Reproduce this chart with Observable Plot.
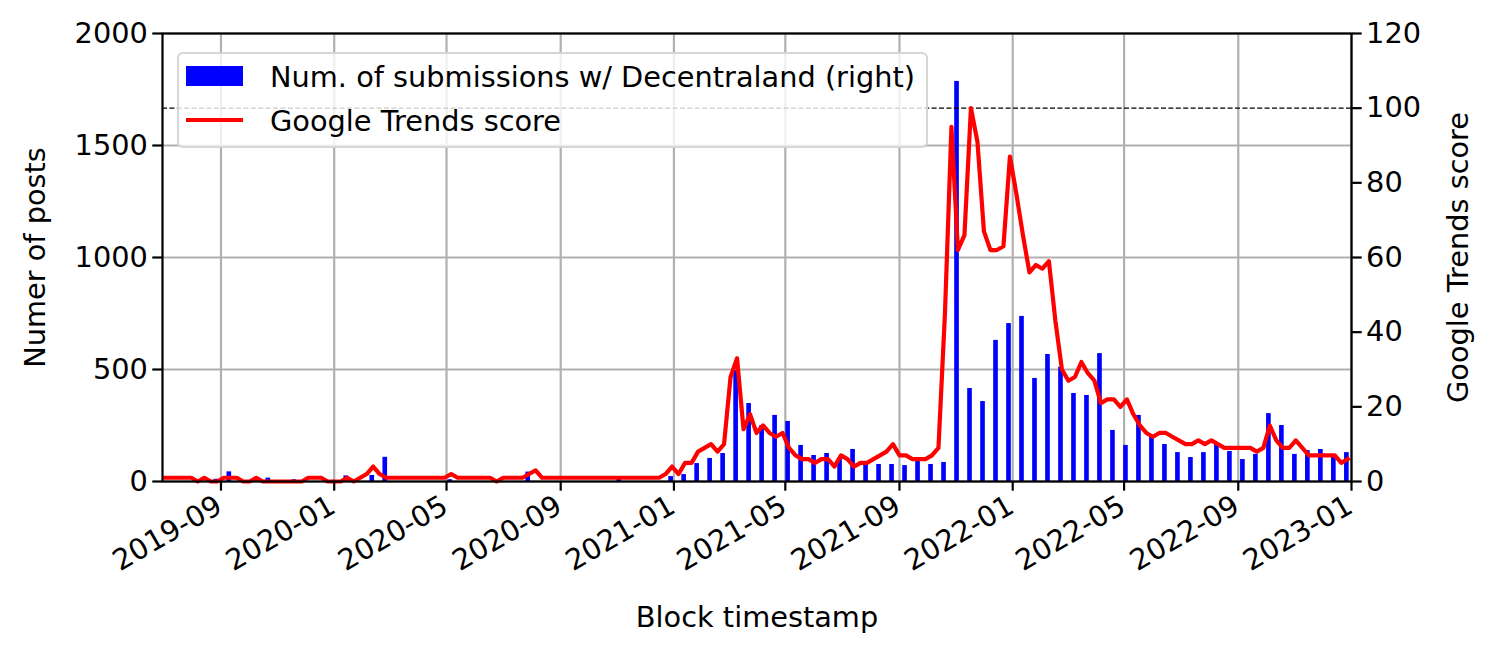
<!DOCTYPE html>
<html><head><meta charset="utf-8">
<script src="https://cdn.jsdelivr.net/npm/d3@7"></script>
<script src="https://cdn.jsdelivr.net/npm/@observablehq/plot@0.6"></script>
<style>
body{margin:0;background:#fff;}
#wrap{position:relative;width:1494px;height:655px;font-family:"DejaVu Sans";}
#legend{position:absolute;left:177px;top:52px;width:751px;height:96px;box-sizing:border-box;border:2.5px solid rgba(204,204,204,0.8);border-radius:6px;background:rgba(255,255,255,0.8);}
.sw{position:absolute;}
.lt{position:absolute;font-size:28.8px;line-height:1;white-space:nowrap;transform:translateY(-50%);color:#000;}
</style></head><body><div id="wrap"></div>
<script>
// ---- data ----
const xTickDates = ["2019-09-01","2020-01-01","2020-05-01","2020-09-01","2021-01-01","2021-05-01","2021-09-01","2022-01-01","2022-05-01","2022-09-01","2023-01-01"];
const leftTicks = [0, 500, 1000, 1500, 2000];
const rightTicks = [0, 20, 40, 60, 80, 100, 120];
const barStart = "2019-07-16";   // biweekly bars
const barStepDays = 14;
const submissions = [
  0,0,0,10,43,0,0,15,0,8,
  0,0,5,25,0,27,108,0,0,0,
  0,8,0,0,0,0,0,42,0,0,
  0,0,0,0,20,0,0,0,22,31,
  80,103,125,495,348,250,295,268,161,116,
  125,103,143,85,76,76,71,92,76,85,
  1786,415,357,630,705,737,460,567,510,393,
  384,571,228,161,295,205,165,129,107,129,
  165,134,98,121,303,250,121,138,143,112,
  129
];
const trendStart = "2019-07-03"; // weekly Google Trends
const trendStepDays = 7;
const trendScore = [
  1,1,1,1,1,0,1,0,0,1,
  1,1,0,0,1,0,0,0,0,0,
  0,0,1,1,1,0,0,0,1,0,
  1,2,4,2,1,1,1,1,1,1,
  1,1,1,1,2,1,1,1,1,1,
  1,0,1,1,1,1,2,3,1,1,
  1,1,1,1,1,1,1,1,1,1,
  1,1,1,1,1,1,1,2,4,2,
  5,5,8,9,10,8,10,28,33,14,
  18,13,15,13,12,13,9,7,6,6,
  5,6,6,4,7,6,4,5,5,6,
  7,8,10,7,7,6,6,6,7,9,
  45,95,62,66,100,91,67,62,62,63,
  87,77,66,56,58,57,59,43,30,27,
  28,32,29,27,21,22,22,20,22,18,
  15,13,12,13,13,12,11,10,10,11,
  10,11,10,9,9,9,9,9,8,9,
  15,11,9,9,11,9,7,7,7,7,
  7,5,6
];
const refScore = 100;
const xDomain = ["2019-06-30", "2023-01-01"];
const leftMax = 2000, rightMax = 120;
const labels = {left: "Numer of posts", right: "Google Trends score", bottom: "Block timestamp"};
const legendLabels = ["Num. of submissions w/ Decentraland (right)", "Google Trends score"];

// ---- build ----
const K = leftMax / rightMax;
const bars = submissions.map((v, i) => ({date: d3.utcDay.offset(new Date(barStart), i * barStepDays), value: v}));
const trend = trendScore.map((v, i) => ({date: d3.utcDay.offset(new Date(trendStart), i * trendStepDays), score: v}));
const xt = xTickDates.map(d => new Date(d));
const fmt = d3.utcFormat("%Y-%m");
const FS = 28.8;

const chart = Plot.plot({
  width: 1494, height: 655,
  marginLeft: 162, marginRight: 143, marginTop: 33, marginBottom: 174,
  style: {fontFamily: "DejaVu Sans", fontSize: FS + "px", background: "white", overflow: "visible", color: "black"},
  x: {type: "utc", domain: xDomain.map(d => new Date(d))},
  y: {domain: [0, leftMax]},
  marks: [
    Plot.gridX(xt, {stroke: "#b0b0b0", strokeOpacity: 1, strokeWidth: 2.2}),
    Plot.gridY(leftTicks, {stroke: "#b0b0b0", strokeOpacity: 1, strokeWidth: 2.2}),
    Plot.rect(bars, {x1: d => d3.utcHour.offset(d.date, -60), x2: d => d3.utcHour.offset(d.date, 60), y1: 0, y2: "value", fill: "blue"}),
    Plot.ruleY([refScore * K], {stroke: "black", strokeWidth: 1.3, strokeDasharray: "5,2.4"}),
    Plot.line(trend, {x: "date", y: d => d.score * K, stroke: "red", strokeWidth: 4.2, strokeLinejoin: "round", strokeLinecap: "square"}),
    Plot.frame({stroke: "black", strokeWidth: 2.2}),
    Plot.axisY(leftTicks, {anchor: "left", tickSize: 9.7, tickPadding: 4.9, strokeWidth: 2.2, label: null, fontSize: FS, tickFormat: d => String(d)}),
    Plot.axisY(rightTicks.map(v => v * K), {anchor: "right", tickSize: 9.7, tickPadding: 4.9, strokeWidth: 2.2, label: null, fontSize: FS, tickFormat: d => String(Math.round(d / K))}),
    Plot.axisX(xt, {anchor: "bottom", tickSize: 9.7, strokeWidth: 2.2, label: null, tickFormat: () => ""}),
    Plot.text(xt, {x: d => d, frameAnchor: "bottom", text: d => fmt(d), rotate: -30, textAnchor: "end", lineAnchor: "top", dx: -7, dy: 12, fontSize: FS}),
    Plot.text([labels.left], {frameAnchor: "left", text: d => d, rotate: -90, textAnchor: "middle", lineAnchor: "middle", dx: -127, fontSize: FS}),
    Plot.text([labels.right], {frameAnchor: "right", text: d => d, rotate: -90, textAnchor: "middle", lineAnchor: "middle", dx: 107, fontSize: FS}),
    Plot.text([labels.bottom], {frameAnchor: "bottom", text: d => d, textAnchor: "middle", lineAnchor: "middle", dy: 136, fontSize: FS})
  ]
});
const wrap = document.getElementById("wrap");
wrap.appendChild(chart);

// legend overlay
const lg = document.createElement("div");
lg.id = "legend";
lg.innerHTML =
  `<div class="sw" style="left:7px;top:12px;width:57px;height:19.5px;background:blue"></div>` +
  `<div class="lt" style="left:91px;top:23px">${legendLabels[0]}</div>` +
  `<div class="sw" style="left:7px;top:64px;width:57px;height:4.2px;background:red"></div>` +
  `<div class="lt" style="left:91px;top:67px">${legendLabels[1]}</div>`;
wrap.appendChild(lg);
</script></body></html>
